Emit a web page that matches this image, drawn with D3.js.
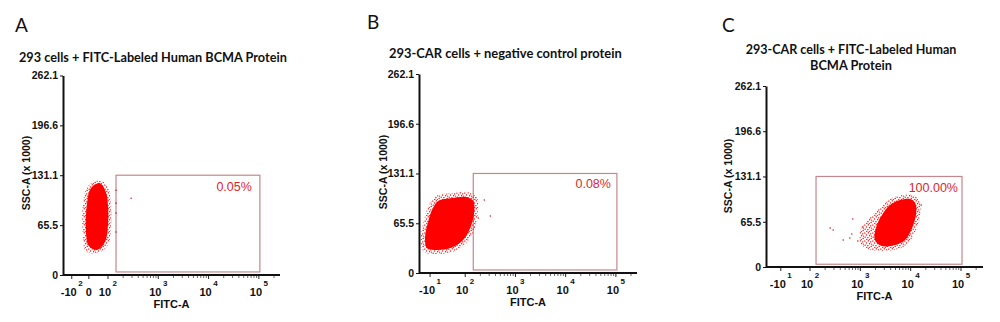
<!DOCTYPE html>
<html><head><meta charset="utf-8">
<script src="https://cdn.jsdelivr.net/npm/d3@7"></script>
<style>body{margin:0;background:#fff;}svg{display:block;}</style>
</head><body>
<script>
// ---------------- DATA ----------------
const panelLetters = ["A", "B", "C"];
const titlesA = ["293 cells + FITC-Labeled Human BCMA Protein"];
const titlesB = ["293-CAR cells + negative control protein"];
const titlesC = ["293-CAR cells + FITC-Labeled Human", "BCMA Protein"];
const gatePercents = ["0.05%", "0.08%", "100.00%"];
const gateSsc = [4, 131.1];
const gateFitcA = [2.16, 5.02];
const gateFitcB = [2.16, 5.02];
const gateFitcC = [2.12, 5.02];
const yTickValues = [0, 65.5, 131.1, 196.6, 262.1];
const yTickLabels = ["0", "65.5", "131.1", "196.6", "262.1"];
const yMax = 262.1;
// x ticks in display (decade) units
const xTickPosA = [1.28, 1.62, 2, 3, 4, 5];
const xTickBaseA = ["-10", "0", "10", "10", "10", "10"];
const xTickExpA = ["2", "", "2", "3", "4", "5"];
const xTickPosB = [1.30, 2, 3, 4, 5];
const xTickBaseB = ["-10", "10", "10", "10", "10"];
const xTickExpB = ["1", "2", "3", "4", "5"];
const xTickPosC = [1.42, 2, 3, 4, 5];
const xTickBaseC = ["-10", "10", "10", "10", "10"];
const xTickExpC = ["1", "2", "3", "4", "5"];
const xAxisTitle = "FITC-A";
const yAxisTitle = "SSC-A (x 1000)";
// cluster outlines [FITC decade, SSC x1000]
const haloA = [[1.84,124.5],[2.0,115.3],[2.06,91.7],[2.06,61.6],[2.0,39.3],[1.80,28.8],[1.56,31.5],[1.50,56.4],[1.50,91.7],[1.60,116.6]];
const coreA = [[1.84,120.6],[1.96,108.8],[2.0,91.7],[2.0,65.5],[1.94,43.2],[1.78,32.8],[1.62,38],[1.56,59],[1.58,91.7],[1.66,114]];
const outA = [[2.16,111.4],[2.16,94.4],[2.16,81.3],[2.16,56.4],[2.46,100.9]];
const haloB = [[1.42,101.4],[1.74,105.4],[2.04,106.7],[2.23,100.1],[2.25,80.3],[2.18,56.6],[2.0,38.2],[1.74,27.7],[1.44,25.0],[1.18,27.7],[1.12,43.5],[1.18,69.8],[1.28,89.6]];
const coreB = [[1.46,94.8],[1.74,98.8],[2.02,100.1],[2.16,94.8],[2.18,80.3],[2.10,59.3],[1.94,42.1],[1.70,32.9],[1.44,30.3],[1.24,32.9],[1.20,46.1],[1.26,67.2],[1.34,83.0]];
const outB = [[2.38,96.1],[2.50,75.1],[2.26,72.4],[2.10,80.3]];
const haloC = [[3.75,102.8],[4.03,104.3],[4.17,97.0],[4.19,75.3],[4.09,50.7],[3.91,31.9],[3.65,24.6],[3.23,24.6],[3.03,31.9],[2.99,50.7],[3.14,68.1],[3.39,85.4],[3.59,98.5]];
const coreC = [[3.79,97.0],[3.99,98.5],[4.09,92.7],[4.11,78.2],[4.03,56.5],[3.89,39.1],[3.69,31.9],[3.43,30.4],[3.29,39.1],[3.31,56.5],[3.43,75.3],[3.59,89.8]];
const outC = [[2.40,56.5],[2.46,53.6],[2.66,39.1],[2.85,69.5],[2.79,42.0],[2.95,37.6],[3.05,57.9],[2.83,47.8],[4.21,89.8]];

// ---------------- LAYOUT ----------------
const panels = [
  {letter: panelLetters[0], letterX: 15, letterY: 32, titles: titlesA, titleX: 19, titleW: [268], titleY: [61.5], anchor: "start",
   xDomain: [1.106, 5.42], xRange: [63, 280], yRange: [275, 75.5],
   gate: gateFitcA, pct: gatePercents[0], pctInset: 8, pctDy: 16,
   halo: haloA, core: coreA, out: outA,
   tickPos: xTickPosA, tickBase: xTickBaseA, tickExp: xTickExpA,
   yTitleX: 26, yTitleY: 173},
  {letter: panelLetters[1], letterX: 367, letterY: 29, titles: titlesB, titleX: 389, titleW: [233], titleY: [57.5], anchor: "start",
   xDomain: [1.08, 5.42], xRange: [419, 637], yRange: [273, 74],
   gate: gateFitcB, pct: gatePercents[1], pctInset: 6, pctDy: 15,
   halo: haloB, core: coreB, out: outB,
   tickPos: xTickPosB, tickBase: xTickBaseB, tickExp: xTickExpB,
   yTitleX: 383, yTitleY: 172},
  {letter: panelLetters[2], letterX: 722, letterY: 32, titles: titlesC, titleX: 851, titleW: [211, 82], titleY: [53.5, 70], anchor: "middle",
   xDomain: [1.126, 5.437], xRange: [766, 983], yRange: [267, 86],
   gate: gateFitcC, pct: gatePercents[2], pctInset: 4, pctDy: 15.5,
   halo: haloC, core: coreC, out: outC,
   tickPos: xTickPosC, tickBase: xTickBaseC, tickExp: xTickExpC,
   yTitleX: 728, yTitleY: 176}
];

const svg = d3.select("body").append("svg").attr("width", 1000).attr("height", 322);
const defs = svg.append("defs");
// speckle texture for the sparse rim of each cloud (pure styling)
const pat = defs.append("pattern").attr("id", "speck").attr("patternUnits", "userSpaceOnUse")
  .attr("width", 8).attr("height", 8);
[[0.2,0.5],[3.7,0.2],[6.1,1.3],[1.9,2.4],[5.0,3.1],[0.6,4.6],[3.3,5.0],[6.6,5.8],[2.2,6.9],[4.8,7.2],[7.2,3.6]].forEach(([a,b]) =>
  pat.append("rect").attr("x", a).attr("y", b).attr("width", 1.2).attr("height", 1.2).attr("fill", "#ff0000"));

const CLUSTER = "#ff0000";

panels.forEach(p => {
  const x = d3.scaleLinear().domain(p.xDomain).range(p.xRange);
  const y = d3.scaleLinear().domain([0, yMax]).range(p.yRange);
  const g = svg.append("g");

  g.append("text").attr("x", p.letterX).attr("y", p.letterY).text(p.letter)
    .style("font", "400 19px Lato").attr("fill", "#111");

  p.titles.forEach((t, i) => {
    const tx = g.append("text").attr("x", p.titleX).attr("y", p.titleY[i])
      .attr("text-anchor", p.anchor).style("font-family", "Lato").style("font-weight", 700)
      .style("font-size", "13px").attr("fill", "#111").text(t);
    const w = tx.node().getComputedTextLength();
    tx.style("font-size", (13 * p.titleW[i] / w).toFixed(2) + "px");
  });

  // gate
  const gx0 = x(p.gate[0]), gx1 = x(p.gate[1]), gy0 = y(gateSsc[1]), gy1 = y(gateSsc[0]);
  g.append("rect").attr("x", gx0).attr("y", gy0).attr("width", gx1 - gx0).attr("height", gy1 - gy0)
    .attr("fill", "none").attr("stroke", "#c4878d").attr("stroke-width", 1.2);
  g.append("text").attr("x", gx1 - p.pctInset).attr("y", gy0 + p.pctDy).attr("text-anchor", "end")
    .style("font", "400 12.5px 'Liberation Sans', Arial").attr("fill", "#e0262b").text(p.pct);

  // cluster
  const line = d3.line().x(d => x(d[0])).y(d => y(d[1])).curve(d3.curveCatmullRomClosed);
  g.append("path").attr("d", line(p.halo)).attr("fill", "url(#speck)");
  g.append("path").attr("d", line(p.core)).attr("fill", CLUSTER);
  g.selectAll("circle.o").data(p.out).join("circle").attr("class", "o")
    .attr("cx", d => x(d[0])).attr("cy", d => y(d[1])).attr("r", 0.8).attr("fill", "#d42020");

  // y axis
  const ya = g.append("g").attr("transform", `translate(${p.xRange[0]},0)`)
    .call(d3.axisLeft(y).tickValues(yTickValues).tickFormat((d, i) => yTickLabels[i]).tickSize(3).tickSizeOuter(0).tickPadding(2));
  ya.select(".domain").attr("stroke", "#111").attr("stroke-width", 2);
  ya.selectAll(".tick line").attr("stroke", "#111");
  ya.selectAll(".tick text").style("font", "700 10.5px 'Liberation Sans', Arial").attr("fill", "#111");

  // x axis
  const y0 = y(0);
  g.append("line").attr("x1", p.xRange[0]).attr("x2", p.xRange[1]).attr("y1", y0).attr("y2", y0)
    .attr("stroke", "#111").attr("stroke-width", 2);
  const minor = [];
  for (let k = 2; k < 6; k++) for (let m = 2; m <= 9; m++) {
    const v = k + Math.log10(m);
    if (v < p.xDomain[1]) minor.push(v);
  }
  g.selectAll("line.mn").data(minor).join("line").attr("class", "mn")
    .attr("x1", d => x(d)).attr("x2", d => x(d)).attr("y1", y0 + 1).attr("y2", y0 + 3)
    .attr("stroke", "#444").attr("stroke-width", 0.8);
  g.selectAll("line.mj").data(p.tickPos).join("line").attr("class", "mj")
    .attr("x1", d => x(d)).attr("x2", d => x(d)).attr("y1", y0 + 1).attr("y2", y0 + 4)
    .attr("stroke", "#222").attr("stroke-width", 1);
  p.tickPos.forEach((v, i) => {
    const t = g.append("text").attr("x", x(v)).attr("y", y0 + 20.5).attr("text-anchor", "middle")
      .style("font-family", "'Liberation Sans', Arial").style("font-weight", 700).attr("fill", "#111");
    t.append("tspan").style("font-size", "11px").text(p.tickBase[i]);
    if (p.tickExp[i]) t.append("tspan").attr("dx", 1.5).attr("dy", -10).style("font-size", "8px").text(p.tickExp[i]);
  });
  g.append("text").attr("x", (p.xRange[0] + p.xRange[1]) / 2).attr("y", y0 + 32.5).attr("text-anchor", "middle")
    .style("font", "700 11px 'Liberation Sans', Arial").attr("fill", "#111").text(xAxisTitle);
  g.append("text").attr("transform", `translate(${p.yTitleX},${p.yTitleY}) rotate(-90)`)
    .attr("text-anchor", "middle").attr("dominant-baseline", "central")
    .style("font", "700 10.5px 'Liberation Sans', Arial").attr("fill", "#111").text(yAxisTitle);
});
</script>
</body></html>
